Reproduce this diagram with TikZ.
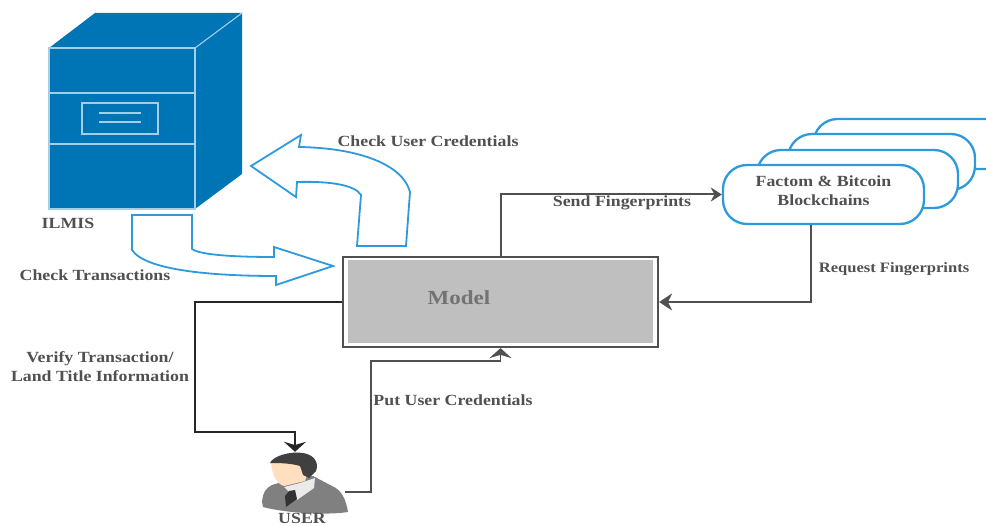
\documentclass[tikz,border=0pt]{standalone}
\usepackage{fontspec}
\setmainfont[FakeStretch=1.15]{Liberation Serif}
\usetikzlibrary{arrows.meta}
\definecolor{serverblue}{HTML}{0075B6}
\definecolor{serverline}{HTML}{A4CFE8}
\definecolor{flowblue}{HTML}{2F9ADB}
\definecolor{inkgray}{HTML}{505050}
\tikzset{
  lbl/.style={font=\fontsize{15.5}{19}\selectfont\bfseries, text=inkgray, inner sep=0pt},
  chainbox/.style={draw=flowblue, line width=2.3pt, fill=white, rounded corners=24pt, inner sep=0pt},
  link/.style={draw=inkgray, line width=2pt, -{Stealth[length=13pt, width=17pt]}},
  bigarrow/.style={draw=flowblue, line width=1.8pt, fill=white, line join=miter},
  srvline/.style={draw=serverline, line width=1.1pt},
}

\begin{document}
\begin{tikzpicture}[x=1pt, y=-1pt]
        \useasboundingbox (0, 0) rectangle (986, 526);

        % server
        \fill[serverblue] (49, 48) -- (95, 13) -- (242, 13) -- (242, 174) -- (195, 209) -- (49, 209) -- cycle;
        \draw[srvline] (49, 209) -- (49, 48) -- (195, 48) -- (195, 209) -- cycle;
        \draw[srvline] (195, 48) -- (242, 13);
        \draw[srvline] (49, 93) -- (195, 93);
        \draw[srvline] (49, 144) -- (195, 144);
        \draw[srvline] (82, 103) rectangle (158, 134);
        \draw[srvline] (99, 113) -- (141, 113);
        \draw[srvline] (99, 122) -- (141, 122);
        \node[lbl] (ilmis) at (68, 223) {ILMIS};

        % big arrows
        \draw[bigarrow] (132, 215) -- (192, 215) -- (192, 249) .. controls (200, 255) and (235, 257) .. (274, 257)
                -- (274, 247) -- (333, 266) -- (276, 285) -- (276, 276) .. controls (210, 276) and (145, 270) .. (132, 250) -- cycle;
        \draw[bigarrow] (251, 166) -- (301, 135) -- (299, 147) .. controls (360, 148) and (403, 165) .. (410, 192)
                -- (406, 246) -- (357, 246) -- (361, 195) .. controls (355, 185) and (330, 181) .. (297, 182) -- (296, 197) -- cycle;
        \node[lbl] (checktrans) at (95, 275) {Check Transactions};
        \node[lbl] (checkuser) at (428, 141) {Check User Credentials};

        % model
        \node[draw=inkgray, line width=2.2pt, fill=white, minimum width=315pt, minimum height=90pt] (model) at (500.5, 302) {};
        \node[fill=black!25, minimum width=305pt, minimum height=83pt] (modelfill) at (model) {};
        \node[lbl, text=black!55, font=\fontsize{20}{22}\selectfont\bfseries] (modeltxt) at (459, 298) {Model};

        % blockchains
        \node[chainbox, minimum width=201pt, minimum height=50pt] (chaind) at (914, 144) {};
        \node[chainbox, minimum width=187pt, minimum height=56pt] (chainc) at (881.5, 162) {};
        \node[chainbox, minimum width=201pt, minimum height=58pt] (chainb) at (857.5, 179) {};
        \node[chainbox, minimum width=201pt, minimum height=59pt, align=center, text=inkgray, text depth=8pt,
              font=\fontsize{15.5}{19}\selectfont\bfseries] (chain) at (823.5, 194.5) {Factom \& Bitcoin\\Blockchains};

        % user
        \fill[black!50] (262, 502) .. controls (263, 492) and (266, 488) .. (272, 485) -- (288, 480) -- (313, 476) -- (332, 486)
                .. controls (342, 490) and (346, 500) .. (348, 512) .. controls (330, 515) and (290, 514) .. (263, 507) -- cycle;
        \fill[black!8] (284, 487) -- (300, 483) -- (315, 478) -- (314, 488) -- (297, 500) -- cycle;
        \fill[black!80] (285, 496) -- (289, 491) -- (295, 490) -- (297, 499) -- (286, 507) -- cycle;
        \fill[orange!25] (271, 462) -- (300, 462) -- (309, 470) -- (305, 481) -- (284, 486) .. controls (277, 484) and (272, 476) .. (271, 462) -- cycle;
        \fill[black!75] (270, 463) .. controls (273, 456) and (290, 451) .. (303, 453) .. controls (315, 455) and (319, 463) .. (316, 471)
                -- (309, 478) -- (303, 475) -- (300, 466) .. controls (290, 463) and (278, 463) .. (270, 463) -- cycle;
        \node[minimum width=100pt, minimum height=60pt, inner sep=0pt] (user) at (295, 482) {};
        \node[lbl, anchor=base] (userlbl) at (302, 524) {USER};

        % connectors
        \draw[link, -{Stealth[length=11pt, width=14pt]}] (model.north) |- (chain.west);
        \draw[link] (chain.-112) |- (model.east);
        \draw[link, draw=black!85, line width=2.6pt, -{Stealth[length=10pt, width=22pt]}] (model.west) -- (195, 302) -- (195, 432) -| (user.north);
        \draw[link, line width=1.5pt, -{Stealth[length=10pt, width=22pt]}] (user.-11) -| (371, 361) -| (model.south);

        \node[lbl] (sendfp) at (622, 203) {Send Fingerprints};
        \node[lbl, font=\fontsize{14.4}{19}\selectfont\bfseries] (reqfp) at (894, 269) {Request Fingerprints};
        \node[lbl, align=center] (verify) at (100, 367) {Verify Transaction/\\Land Title Information};
        \node[lbl] (putuser) at (453, 400) {Put User Credentials};
\end{tikzpicture}
\end{document}
